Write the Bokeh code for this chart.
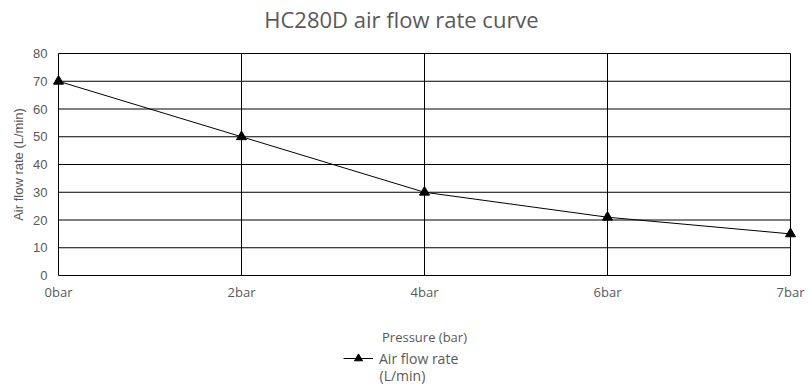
from bokeh.plotting import figure
from bokeh.models import Legend, LegendItem, FixedTicker, Range1d, Label
from bokeh.embed import file_html
from bokeh.resources import INLINE

title_text = "HC280D air flow rate curve"
x_title = "Pressure (bar)"
y_title = "Air flow rate (L/min)"
series_name = ["Air flow rate", "(L/min)"]
pressures = ["0bar", "2bar", "4bar", "6bar", "7bar"]
flow_rate = [70, 50, 30, 21, 15]
y_ticks = [0, 10, 20, 30, 40, 50, 60, 70, 80]

xs = list(range(len(pressures)))
TXT = "#595959"

# layout in canvas pixels (frame fills the whole canvas)
W, H = 808, 385
X0_PX, X1_PX = 58, 790      # where first / last category sit
Y0_PX, Y1_PX = 275, 53      # where y=0 / y=80 sit (from top)
px_x = (xs[-1] - xs[0]) / (X1_PX - X0_PX)
px_y = (y_ticks[-1] - y_ticks[0]) / (Y0_PX - Y1_PX)

p = figure(output_backend="svg", toolbar_location=None, width=W, height=H,
           min_border=0, min_border_left=0, min_border_right=0,
           min_border_top=0, min_border_bottom=0,
           x_range=Range1d(xs[0] - X0_PX * px_x, xs[-1] + (W - X1_PX) * px_x),
           y_range=Range1d(y_ticks[0] - (H - Y0_PX) * px_y, y_ticks[-1] + Y1_PX * px_y))
p.outline_line_color = None
p.background_fill_color = "white"
p.border_fill_color = "white"

p.xaxis.ticker = FixedTicker(ticks=xs)
p.xaxis.major_label_overrides = {i: s for i, s in zip(xs, pressures)}
p.xaxis.fixed_location = y_ticks[0]
p.xaxis.bounds = (xs[0], xs[-1])
p.yaxis.ticker = FixedTicker(ticks=y_ticks)
p.yaxis.fixed_location = xs[0]
p.yaxis.bounds = (y_ticks[0], y_ticks[-1])

for ax in (p.xaxis[0], p.yaxis[0]):
    ax.axis_line_color = None
    ax.major_tick_line_color = None
    ax.minor_tick_line_color = None
    ax.major_tick_out = 0
    ax.major_tick_in = 0
    ax.minor_tick_out = 0
    ax.major_label_text_color = TXT
    ax.axis_label_text_color = TXT
    ax.axis_label_text_font_style = "normal"

p.xaxis.major_label_text_font = "Open Sans"
p.xaxis.major_label_text_font_size = "13px"
p.xaxis.major_label_standoff = 7
p.xaxis.axis_label = x_title
p.xaxis.axis_label_text_font = "Open Sans"
p.xaxis.axis_label_text_font_size = "13px"
p.xaxis.axis_label_standoff = 24

p.yaxis.major_label_text_font = "Liberation Sans"
p.yaxis.major_label_text_font_size = "13px"
p.yaxis.major_label_standoff = 11
p.yaxis.axis_label = y_title
p.yaxis.axis_label_text_font = "Liberation Sans"
p.yaxis.axis_label_text_font_size = "13px"
p.yaxis.axis_label_standoff = 4

p.xgrid.grid_line_color = None
p.ygrid.grid_line_color = None

# grid lines only across the data area
n_y, n_x = len(y_ticks), len(xs)
p.segment(x0=[xs[0]] * n_y, x1=[xs[-1]] * n_y, y0=y_ticks, y1=y_ticks,
          line_color="black", line_width=1)
p.segment(x0=xs, x1=xs, y0=[y_ticks[0]] * n_x, y1=[y_ticks[-1]] * n_x,
          line_color="black", line_width=1)

ln = p.line(xs, flow_rate, line_color="black", line_width=1)
mk = p.scatter(xs, flow_rate, marker="triangle", size=10, fill_color="black", line_color="black")

p.add_layout(Label(x=401, y=H - 18, x_units="screen", y_units="screen", text=title_text,
                   text_align="center", text_baseline="middle", text_font="Open Sans",
                   text_font_size="22px", text_color=TXT))

legend = Legend(items=[LegendItem(label=series_name[0], renderers=[ln, mk])],
                location=(343, 17), glyph_width=30, glyph_height=20, label_height=20,
                label_standoff=6, padding=0, margin=0, spacing=0,
                border_line_color=None, background_fill_alpha=0,
                label_text_font="Open Sans", label_text_font_size="14px",
                label_text_color=TXT)
p.add_layout(legend, "center")
p.add_layout(Label(x=379, y=10, x_units="screen", y_units="screen", text=series_name[1],
                   text_align="left", text_baseline="middle", text_font="Open Sans",
                   text_font_size="14px", text_color=TXT))

open("out.html", "w").write(file_html(p, INLINE))
